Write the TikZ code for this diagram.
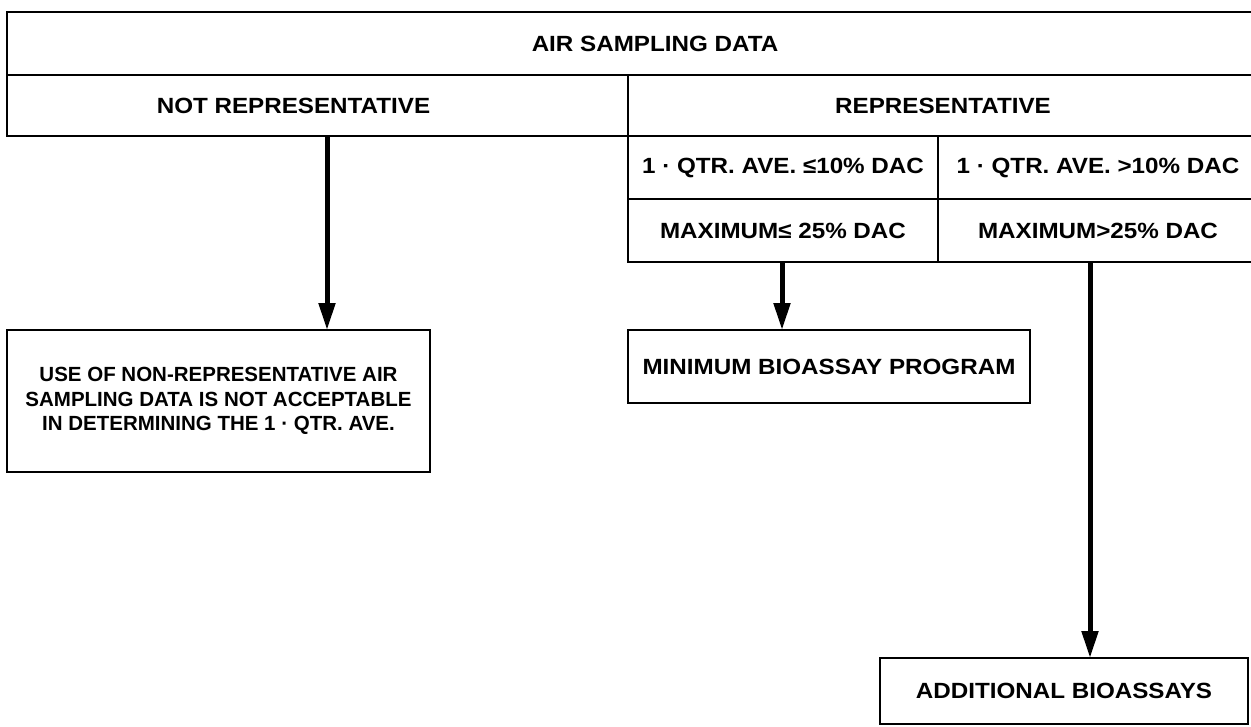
\documentclass[tikz,border=0pt]{standalone}
\usepackage{fontspec}
\setmainfont{Liberation Sans}[FakeStretch=1.1]
\newfontfamily\plainfont{Liberation Sans}
\usetikzlibrary{arrows.meta,calc}
\begin{document}
\begin{tikzpicture}[x=1pt,y=-1pt,
  box/.style={draw=black, line width=2.6pt, inner sep=0pt, outer sep=0pt, rectangle,
    font=\fontsize{22}{26}\selectfont\bfseries},
  arr/.style={line width=5pt, -{Triangle[length=27pt,width=16pt]}}]
\useasboundingbox (0,0) rectangle (1251,726);
\fill[white] (0,0) rectangle (1251,726);
% header
\node[box, minimum width=1296pt, minimum height=63pt] (top) at (655,43.5) {AIR SAMPLING DATA};
\node[box, minimum width=621pt, minimum height=61pt] (nr) at (317.5,105.5) {NOT REPRESENTATIVE\kern48pt};
\node[box, minimum width=630pt, minimum height=61pt] (rp) at (943,105.5) {REPRESENTATIVE};
\node[box, minimum width=310pt, minimum height=63pt] (q1) at (783,167.5) {1 · QTR. AVE. ≤10\% DAC};
\node[box, minimum width=320pt, minimum height=63pt] (q2) at (1098,167.5) {1 · QTR. AVE. >10\% DAC};
\node[box, minimum width=310pt, minimum height=63pt] (m1) at (783,230.5) {MAXIMUM≤ 25\% DAC};
\node[box, minimum width=320pt, minimum height=63pt] (m2) at (1098,230.5) {MAXIMUM>25\% DAC};
% outcomes
\node[box, minimum width=423pt, minimum height=142pt, align=center,
  font=\plainfont\fontsize{20.5}{24.5}\selectfont\bfseries] (use) at (218.5,401)
  {USE OF NON-REPRESENTATIVE AIR\\SAMPLING DATA IS NOT ACCEPTABLE\\IN DETERMINING THE 1 · QTR. AVE.};
\node[box, minimum width=402pt, minimum height=73pt] (min) at (829,366.5) {MINIMUM BIOASSAY PROGRAM};
\node[box, minimum width=368pt, minimum height=66pt] (add) at (1064,691) {ADDITIONAL BIOASSAYS};
% arrows
\coordinate (a1) at (327,0);
\coordinate (a2) at (782,0);
\coordinate (a3) at (1090,0);
\draw[arr] (nr.south -| a1) -- (use.north -| a1);
\draw[arr] (m1.south -| a2) -- (min.north -| a2);
\draw[arr] (m2.south -| a3) -- (add.north -| a3);
\end{tikzpicture}
\end{document}
